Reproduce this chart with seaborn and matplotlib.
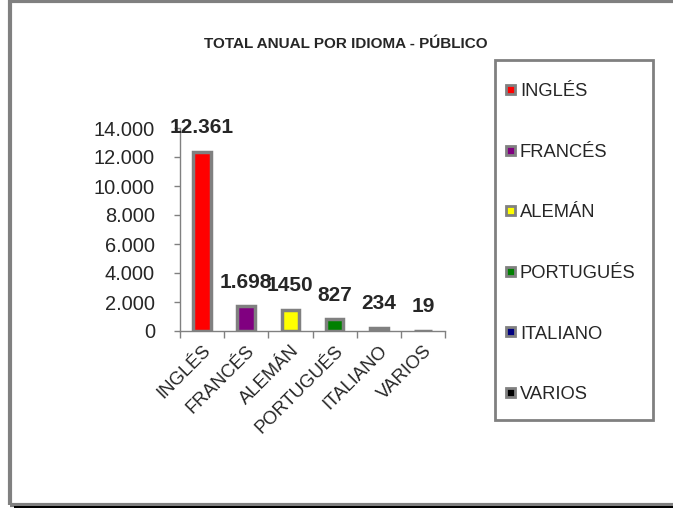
import matplotlib
matplotlib.use("Agg")
import matplotlib.pyplot as plt
import seaborn as sns
from matplotlib.patches import Patch, Rectangle

# Datos
idiomas = ["INGLÉS", "FRANCÉS", "ALEMÁN", "PORTUGUÉS", "ITALIANO", "VARIOS"]
totales = [12361, 1698, 1450, 827, 234, 19]
etiquetas = ["12.361", "1.698", "1450", "827", "234", "19"]
colores = ["#FF0000", "#800080", "#FFFF00", "#008000", "#000080", "#000000"]
ticks_y = [0, 2000, 4000, 6000, 8000, 10000, 12000, 14000]
ticks_y_txt = ["0", "2.000", "4.000", "6.000", "8.000", "10.000", "12.000", "14.000"]

sns.set_style("white")
plt.rcParams["font.family"] = ["Liberation Sans", "DejaVu Sans"]

W, H = 673, 508
fig = plt.figure(figsize=(W / 100, H / 100), dpi=100)
ax = fig.add_axes([180 / W, 1 - 331 / H, (445 - 180) / W, (331 - 128) / H])

sns.barplot(x=idiomas, y=totales, hue=idiomas, palette=colores, legend=False,
            width=0.4, edgecolor="#808080", linewidth=2.5, saturation=1, ax=ax)

ax.set_ylim(0, 14000)
ax.set_xlim(-0.5, 5.5)
ax.set_yticks(ticks_y)
ax.set_yticklabels(ticks_y_txt, fontsize=14.4)
ax.tick_params(axis="y", length=4, width=1, color="#808080", pad=14, left=True)
ax.set_xticks(range(len(idiomas)))
ax.set_xticklabels(idiomas, fontsize=13.3, rotation=45, ha="right", rotation_mode="anchor")
ax.set_xticks([i - 0.5 for i in range(len(idiomas) + 1)], minor=True)
ax.tick_params(axis="x", which="major", length=0, pad=8)
ax.tick_params(axis="x", which="minor", length=5, width=1, color="#808080", bottom=True)
for s in ["top", "right"]:
    ax.spines[s].set_visible(False)
for s in ["left", "bottom"]:
    ax.spines[s].set_color("#808080")
    ax.spines[s].set_linewidth(1)
ax.set_xlabel("")
ax.set_ylabel("")

for i, (v, t) in enumerate(zip(totales, etiquetas)):
    ax.annotate(t, (i, v), xytext=(0, 24), textcoords="offset pixels",
                ha="center", va="center", fontsize=15, fontweight="bold")

fig.text(346 / W, 1 - 44 / H, "TOTAL ANUAL POR IDIOMA - PÚBLICO",
         ha="center", va="center", fontsize=11, fontweight="bold")

# caja de la leyenda
fig.patches.append(Rectangle((495 / W, 1 - 420 / H), 158 / W, 360 / H,
                             transform=fig.transFigure, fill=False,
                             edgecolor="#808080", linewidth=2))
handles = [Patch(facecolor=c, edgecolor="#808080", linewidth=2) for c in colores]
fig.legend(handles, idiomas, loc="upper left", bbox_to_anchor=(506 / W, 1 - 83 / H),
           frameon=False, fontsize=13.2, labelspacing=2.38, handlelength=0.5,
           handleheight=0.38, handletextpad=0.25, borderpad=0, borderaxespad=0)

# marco exterior
fig.patches.append(Rectangle((10 / W, 1 - 505 / H), 1.0, 504 / H,
                             transform=fig.transFigure, fill=False,
                             edgecolor="#808080", linewidth=3))
fig.patches.append(Rectangle((14 / W, 0), 1.0, 2 / H, transform=fig.transFigure,
                             facecolor="black", edgecolor="none"))

fig.savefig("out.png", dpi=100)
